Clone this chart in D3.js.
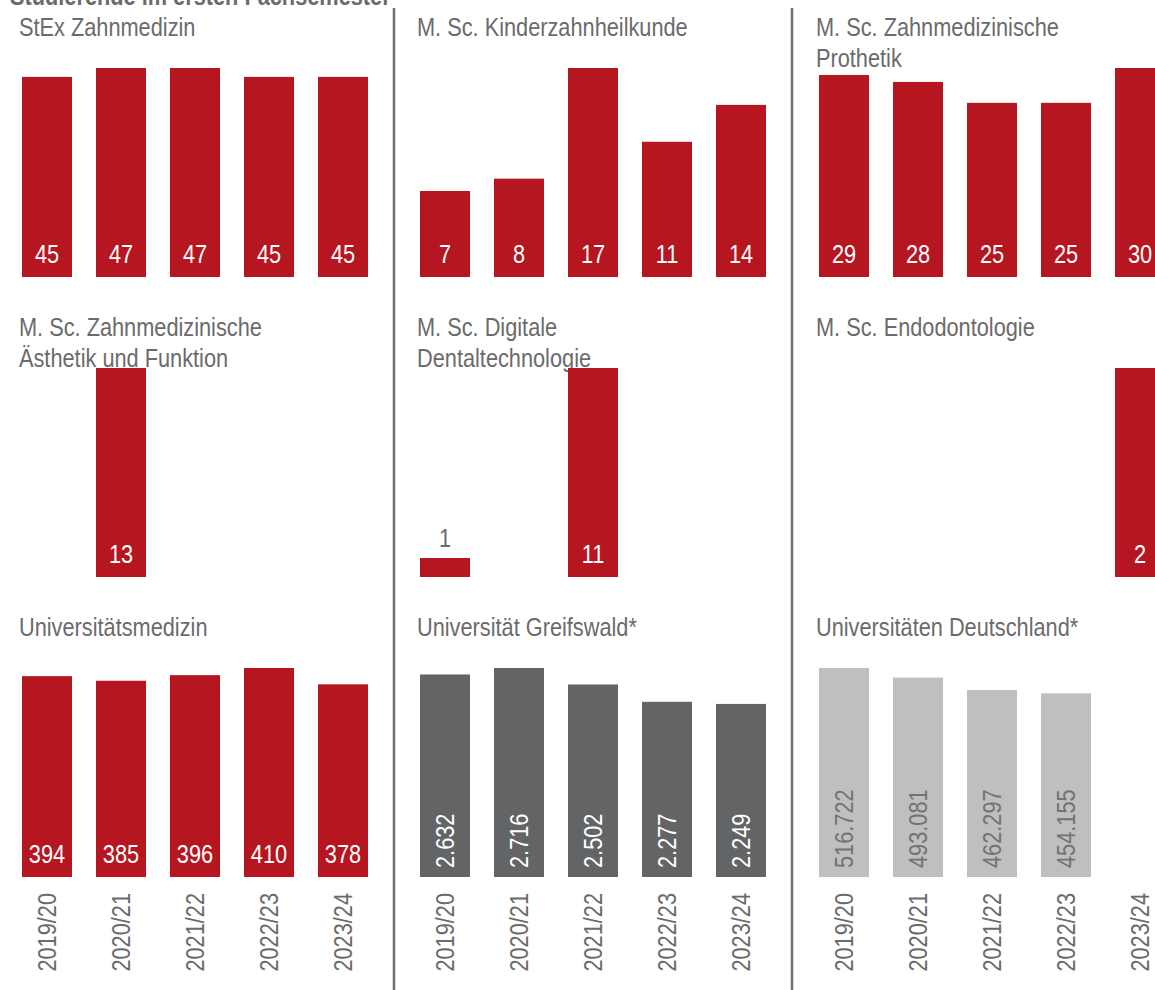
<!DOCTYPE html>
<html>
<head>
<meta charset="utf-8">
<script src="https://cdnjs.cloudflare.com/ajax/libs/d3/7.8.5/d3.min.js"></script>
<style>
  body { margin: 0; background: #fff; }
  svg text { font-family: "Liberation Sans", Arial, sans-serif; }
</style>
</head>
<body>
<div id="chart"></div>
<script>
const years = ["2019/20", "2020/21", "2021/22", "2022/23", "2023/24"];

const stex = [45, 47, 47, 45, 45];
const kinder = [7, 8, 17, 11, 14];
const prothetik = [29, 28, 25, 25, 30];
const aesthetik = [null, 13, null, null, null];
const digital = [1, null, 11, null, null];
const endo = [null, null, null, null, 2];
const unimed = [394, 385, 396, 410, 378];
const greifswald = [2632, 2716, 2502, 2277, 2249];
const deutschland = [516722, 493081, 462297, 454155, null];

const red = "#b5161f";
const panels = [
  { title: ["StEx Zahnmedizin"], values: stex, row: 0, col: 0, color: red, labelColor: "#fff" },
  { title: ["M. Sc. Kinderzahnheilkunde"], values: kinder, row: 0, col: 1, color: red, labelColor: "#fff" },
  { title: ["M. Sc. Zahnmedizinische", "Prothetik"], values: prothetik, row: 0, col: 2, color: red, labelColor: "#fff" },
  { title: ["M. Sc. Zahnmedizinische", "Ästhetik und Funktion"], values: aesthetik, row: 1, col: 0, color: red, labelColor: "#fff" },
  { title: ["M. Sc. Digitale", "Dentaltechnologie"], values: digital, row: 1, col: 1, color: red, labelColor: "#fff" },
  { title: ["M. Sc. Endodontologie"], values: endo, row: 1, col: 2, color: red, labelColor: "#fff" },
  { title: ["Universitätsmedizin"], values: unimed, row: 2, col: 0, color: red, labelColor: "#fff" },
  { title: ["Universität Greifswald*"], values: greifswald, row: 2, col: 1, color: "#636466", labelColor: "#fff", rotate: true },
  { title: ["Universitäten Deutschland*"], values: deutschland, row: 2, col: 2, color: "#bfbfbf", labelColor: "#737373", rotate: true }
];

const width = 1155, height = 990;
const colX = [0, 398, 797];
const rowBase = [277, 577, 877];
const barMax = 209;
const textGrey = "#6b6b6b";
const fs = 25;
const narrow = 0.87; // squeeze Liberation Sans to look like a narrow face
const fmt = d3.formatLocale({ decimal: ",", thousands: ".", grouping: [3] }).format(",d");

// position helper for the squeezed text
const place = (px, py, rot) => `translate(${px},${py})${rot ? " rotate(-90)" : ""} scale(${narrow},1)`;

const svg = d3.select("#chart").append("svg")
  .attr("width", width)
  .attr("height", height);

svg.append("text")
  .attr("transform", place(10, 5))
  .attr("fill", textGrey)
  .attr("font-weight", "bold")
  .attr("font-size", fs)
  .text("Studierende im ersten Fachsemester");

// separators
svg.selectAll(".sep")
  .data([394, 792])
  .join("line")
  .attr("class", "sep")
  .attr("x1", d => d).attr("x2", d => d)
  .attr("y1", 8).attr("y2", height)
  .attr("stroke", "#6f6f6f")
  .attr("stroke-width", 2.5);

const x = d3.scaleBand()
  .domain(years)
  .range([10, 380])
  .paddingInner(24 / 74)
  .paddingOuter(12 / 74);

panels.forEach(p => {
  const base = rowBase[p.row];
  const g = svg.append("g").attr("transform", `translate(${colX[p.col]},0)`);

  const y = d3.scaleLinear()
    .domain([0, d3.max(p.values)])
    .range([base, base - barMax]);

  g.selectAll(".title")
    .data(p.title)
    .join("text")
    .attr("class", "title")
    .attr("transform", (d, i) => place(19, base - 241 + i * 31))
    .attr("fill", textGrey)
    .attr("font-size", fs)
    .text(d => d);

  const data = years.map((yr, i) => ({ yr, v: p.values[i] })).filter(d => d.v != null);
  const cx = d => x(d.yr) + x.bandwidth() / 2;
  const small = d => base - y(d.v) < 40;

  g.selectAll("rect")
    .data(data)
    .join("rect")
    .attr("x", d => x(d.yr))
    .attr("y", d => y(d.v))
    .attr("width", x.bandwidth())
    .attr("height", d => base - y(d.v))
    .attr("fill", p.color);

  if (p.rotate) {
    g.selectAll(".val")
      .data(data)
      .join("text")
      .attr("class", "val")
      .attr("transform", d => place(cx(d), base - 9, true))
      .attr("dy", "0.35em")
      .attr("fill", p.labelColor)
      .attr("font-size", fs)
      .text(d => fmt(d.v));
  } else {
    g.selectAll(".val")
      .data(data)
      .join("text")
      .attr("class", "val")
      .attr("transform", d => place(cx(d), small(d) ? y(d.v) - 11 : base - 14))
      .attr("text-anchor", "middle")
      .attr("fill", d => small(d) ? textGrey : p.labelColor)
      .attr("font-size", fs)
      .text(d => fmt(d.v));
  }

  if (p.row === 2) {
    g.selectAll(".year")
      .data(years)
      .join("text")
      .attr("class", "year")
      .attr("transform", d => place(x(d) + x.bandwidth() / 2, 893, true))
      .attr("dy", "0.35em")
      .attr("text-anchor", "end")
      .attr("fill", textGrey)
      .attr("font-size", fs)
      .text(d => d);
  }
});
</script>
</body>
</html>
